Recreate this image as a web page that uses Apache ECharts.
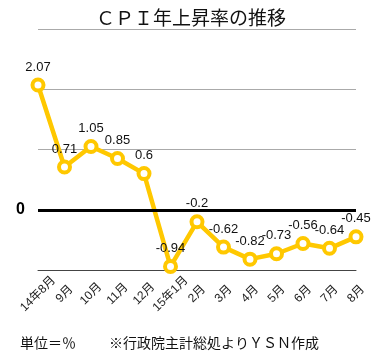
<!DOCTYPE html>
<html>
<head>
<meta charset="utf-8">
<script src="https://cdn.jsdelivr.net/npm/echarts@6/dist/echarts.min.js"></script>
<style>html,body{margin:0;padding:0;background:#fff;}#c{width:382px;height:359px;}</style>
</head>
<body>
<div id="c"></div>
<script>
const categories = ['14年8月','9月','10月','11月','12月','15年1月','2月','3月','4月','5月','6月','7月','8月'];
const cpiValues = [2.07, 0.71, 1.05, 0.85, 0.6, -0.94, -0.2, -0.62, -0.82, -0.73, -0.56, -0.64, -0.45];
const yTicks = { min: -1, max: 3, interval: 1 };

const FONT = '"Liberation Sans", "Noto Sans CJK JP", sans-serif';
const chart = echarts.init(document.getElementById('c'));
chart.setOption({
  animation: false,
  backgroundColor: '#fff',
  textStyle: { fontFamily: FONT },
  title: [
    { text: 'ＣＰＩ年上昇率の推移', left: 'center', top: 5,
      textStyle: { fontSize: 19, fontWeight: 'normal', color: '#111', fontFamily: FONT } },
    { text: '単位＝％', left: 15, top: 332,
      textStyle: { fontSize: 14, fontWeight: 'normal', color: '#111', fontFamily: FONT } },
    { text: '※行政院主計総処よりＹＳＮ作成', left: 104, top: 332,
      textStyle: { fontSize: 14, fontWeight: 'normal', color: '#111', fontFamily: FONT } }
  ],
  grid: { left: 38, right: 26, top: 29, bottom: 89 },
  xAxis: {
    type: 'category',
    data: categories,
    boundaryGap: false,
    axisLine: { onZero: false, lineStyle: { color: '#444', width: 1 } },
    axisTick: { show: false },
    axisLabel: { rotate: 45, align: 'center', verticalAlign: 'middle', fontSize: 12,
      color: '#222', margin: 24, interval: 0, fontFamily: FONT }
  },
  yAxis: {
    type: 'value',
    min: yTicks.min, max: yTicks.max, interval: yTicks.interval,
    axisLine: { show: false },
    axisTick: { show: false },
    splitLine: { lineStyle: { color: '#aaa', width: 1 } },
    axisLabel: {
      margin: 13, fontSize: 16, fontWeight: 'bold', color: '#000',
      formatter: v => (v === 0 ? '0' : '')
    }
  },
  series: [{
    type: 'line',
    data: cpiValues,
    symbol: 'circle',
    symbolSize: 11,
    lineStyle: { color: '#FFC800', width: 4.5 },
    itemStyle: { color: '#fff', borderColor: '#FFC800', borderWidth: 4 },
    label: { show: true, position: 'top', distance: 4, fontSize: 13, color: '#111', fontFamily: FONT },
    markLine: {
      silent: true,
      symbol: 'none',
      label: { show: false },
      lineStyle: { color: '#000', width: 3, type: 'solid' },
      data: [{ yAxis: 0 }]
    },
    z: 3
  }]
});
</script>
</body>
</html>
